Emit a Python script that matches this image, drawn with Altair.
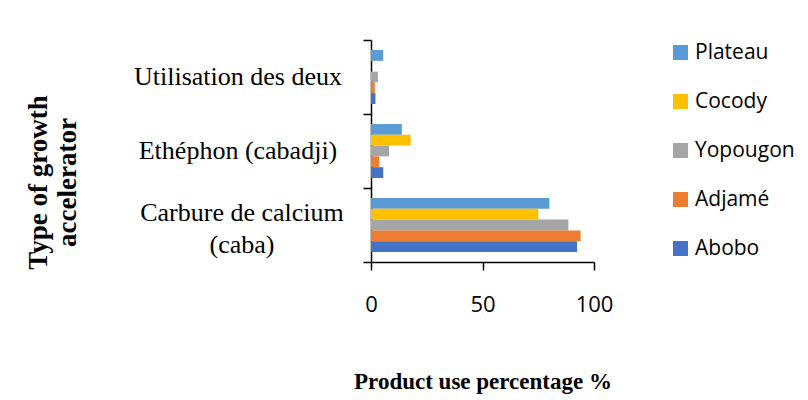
import altair as alt
import pandas as pd

categories = ["Utilisation des deux", "Ethéphon (cabadji)", "Carbure de calcium (caba)"]
sites = ["Plateau", "Cocody", "Yopougon", "Adjamé", "Abobo"]
colors = ["#5B9BD5", "#FFC000", "#A5A5A5", "#ED7D31", "#4472C4"]

plateau = [5.5, 13.8, 80.0]
cocody = [0.0, 17.8, 75.0]
yopougon = [3.1, 8.1, 88.5]
adjame = [1.7, 3.7, 94.0]
abobo = [2.0, 5.5, 92.4]

series = dict(zip(sites, [plateau, cocody, yopougon, adjame, abobo]))
rows = []
for s in sites:
    for c, v in zip(categories, series[s]):
        rows.append({"cat": c, "site": s, "val": v})
df = pd.DataFrame(rows)

label_lines = {
    "Utilisation des deux": ["Utilisation des deux"],
    "Ethéphon (cabadji)": ["Ethéphon (cabadji)"],
    "Carbure de calcium (caba)": ["Carbure de calcium", "(caba)"],
}
lab_df = pd.DataFrame({"cat": categories, "txt": ["\n".join(label_lines[c]) for c in categories],
                       "nlines": [len(label_lines[c]) for c in categories]})

serif = "Liberation Serif"
sans = "Open Sans"

yscale = alt.Scale(domain=categories, paddingInner=0, paddingOuter=0)

bars = alt.Chart(df).mark_bar().encode(
    y=alt.Y("cat:N", sort=categories, scale=yscale,
            axis=alt.Axis(
                title=["Type of growth", "accelerator"],
                titleFont=serif, titleFontSize=27, titleFontWeight="bold",
                titleColor="black", titleAngle=-90,
                titleX=-333, titleY=142, titleAlign="center", titleBaseline="middle",
                labels=False,
                tickBand="extent", tickSize=8, tickColor="black", domainColor="black",
                domainWidth=1.5, tickWidth=1.5, grid=False,
            )),
    yOffset=alt.YOffset("site:N", sort=sites,
                        scale=alt.Scale(paddingInner=0, paddingOuter=0.93)),
    x=alt.X("val:Q", scale=alt.Scale(domain=[0, 100]),
            axis=alt.Axis(
                values=[0, 50, 100], title="Product use percentage %",
                titleFont=serif, titleFontSize=23, titleFontWeight="bold",
                titleColor="black", titleX=111.5, titleY=119, titleAlign="center",
                titleBaseline="middle",
                labelFont=sans, labelFontSize=22, labelColor="black", labelFlush=False,
                labelPadding=24, tickSize=8, tickColor="black", domainColor="black",
                domainWidth=1.5, tickWidth=1.5, grid=False,
            )),
    color=alt.Color("site:N", sort=sites,
                    scale=alt.Scale(domain=sites, range=colors),
                    legend=alt.Legend(
                        title=None, orient="none", legendX=299, legendY=2,
                        symbolType="square", symbolSize=225, symbolStrokeWidth=0,
                        labelFont=sans, labelFontSize=21, labelColor="black",
                        rowPadding=27, labelOffset=4,
                    )),
)

single = alt.Chart(lab_df).transform_filter("datum.nlines == 1").mark_text(
    font=serif, fontSize=26, color="black", align="center", baseline="middle"
).encode(y=alt.Y("cat:N", sort=categories, scale=yscale), x=alt.value(-133), text="txt:N")

double = alt.Chart(lab_df).transform_filter("datum.nlines == 2").mark_text(
    font=serif, fontSize=26, color="black", align="center", baseline="middle",
    lineBreak="\n", lineHeight=32, dy=-12
).encode(y=alt.Y("cat:N", sort=categories, scale=yscale), x=alt.value(-129), text="txt:N")

chart = alt.layer(bars, single, double).properties(
    width=223, height=222,
    background="white",
    autosize=alt.AutoSizeParams(type="none"),
    padding={"left": 363, "top": 32, "right": 206, "bottom": 136},
).configure_view(stroke="transparent", strokeWidth=0)

chart.save("out.html", embed_options={"renderer": "svg", "actions": False})
